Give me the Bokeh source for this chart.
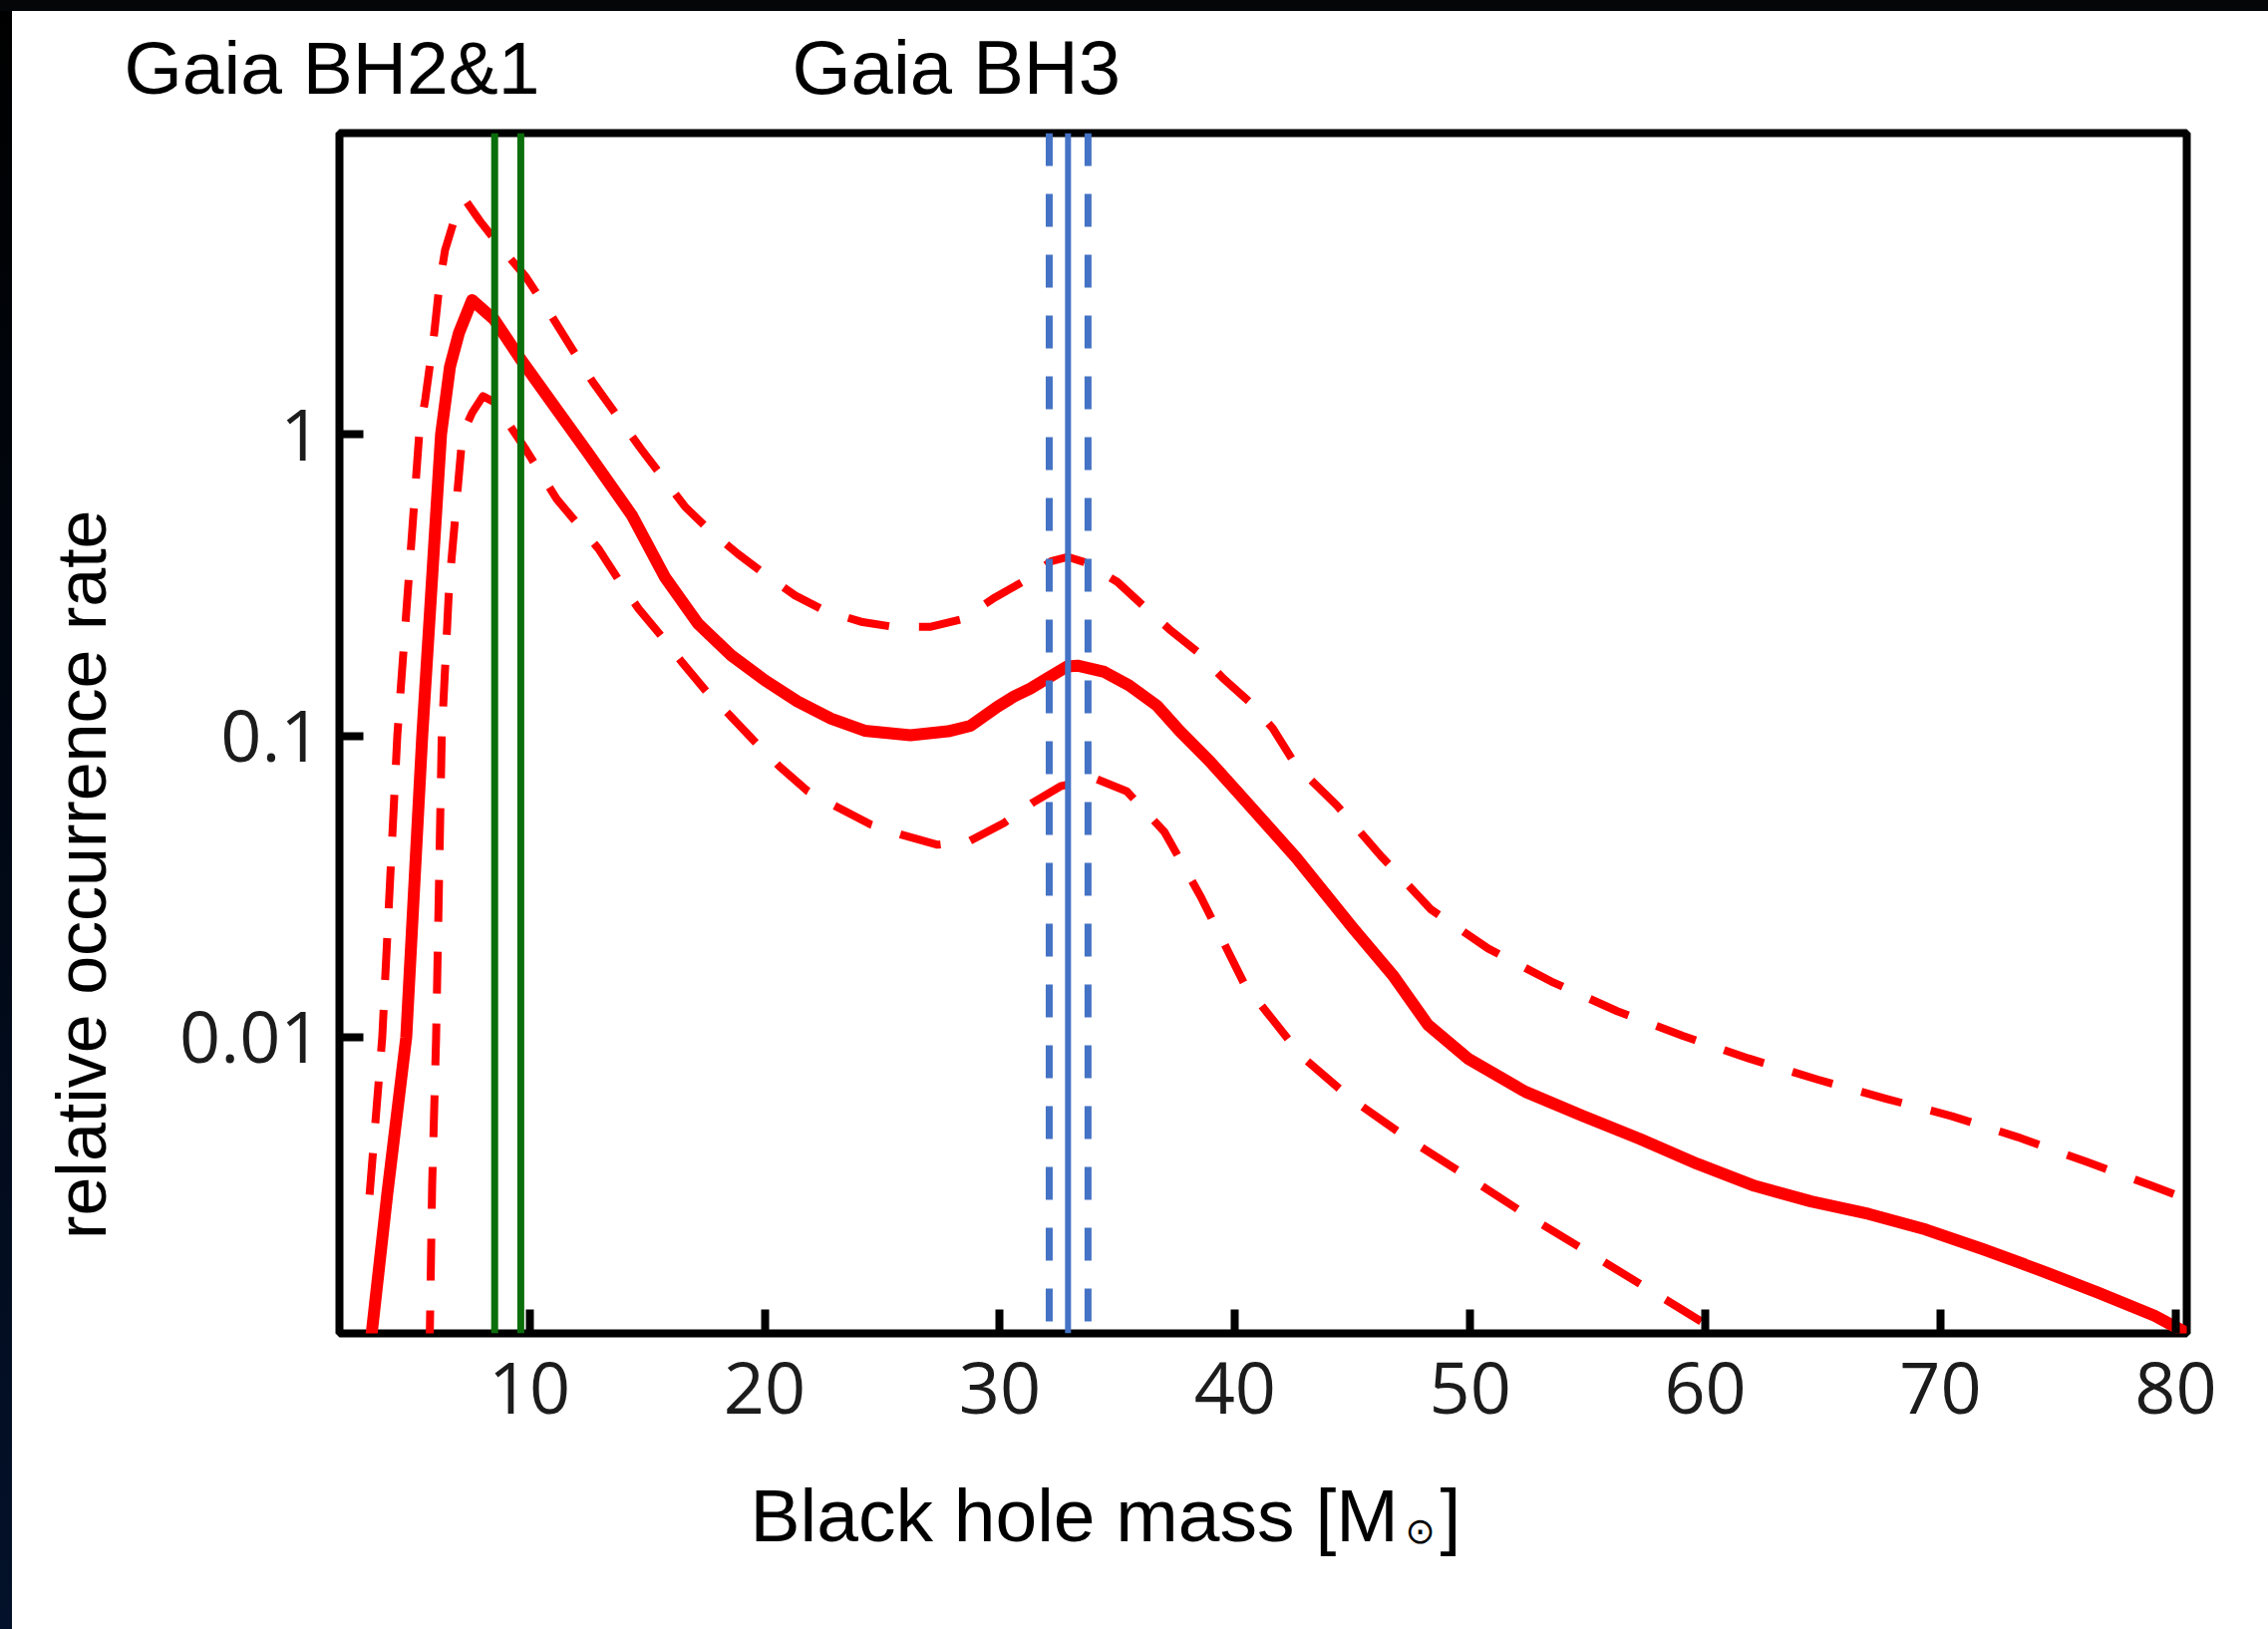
import math
from bokeh.plotting import figure
from bokeh.models import Span, Label, FixedTicker, Range1d, Div
from bokeh.layouts import column, row
from bokeh.embed import file_html
from bokeh.resources import INLINE

# ---------------- data ----------------
mass_median = [3.2, 3.95, 4.76, 5.44, 6.24, 6.62, 7.0, 7.56, 8.51, 9.64, 11.16, 12.48,
               14.35, 15.77, 17.18, 18.58, 20.0, 21.4, 22.83, 24.25, 26.2, 27.8, 28.76, 29.9,
               30.6, 31.3, 32.0, 32.87, 33.3, 34.44, 35.5, 36.68, 37.66, 38.93, 40.07, 42.6,
               45.0, 46.75, 48.2, 49.9, 52.35, 54.78, 57.2, 59.66, 62.1, 64.5, 66.95, 69.37,
               71.8, 74.2, 76.7, 79.1, 80.5]
rate_median = [0.0009, 0.003, 0.01, 0.1, 1.0, 1.68, 2.17, 2.79, 2.4, 1.77, 1.21, 0.87,
               0.54, 0.335, 0.235, 0.185, 0.153, 0.13, 0.114, 0.104, 0.1005, 0.1035, 0.108,
               0.125, 0.135, 0.1435, 0.155, 0.17, 0.171, 0.163, 0.147, 0.126, 0.1035, 0.0823,
               0.0656, 0.0394, 0.0231, 0.0159, 0.011, 0.0085, 0.00659, 0.00548, 0.0046,
               0.0038, 0.00321, 0.00285, 0.00259, 0.0023, 0.00198, 0.00169, 0.00142, 0.00119,
               0.00104]

mass_upper = [3.2, 3.74, 4.38, 5.31, 5.57, 5.95, 6.16, 6.41, 6.85, 7.28, 7.9, 8.7, 9.85, 10.97,
              12.7, 14.77, 16.63, 17.6, 18.87, 20.0, 21.3, 22.56, 24.1, 25.45, 27.07, 28.4,
              29.8, 30.96, 32.2, 32.9, 33.6, 35.0, 36.1, 37.2, 38.4, 39.5, 40.6, 41.6, 42.6,
              44.32, 46.26, 48.34, 50.76, 53.45, 56.25, 59.04, 61.84, 64.76, 67.68, 70.48,
              73.28, 76.2, 79.0, 80.5]
rate_upper = [0.003, 0.01, 0.1, 1.0, 1.31, 2.17, 3.09, 4.09, 5.3, 5.98, 5.1, 4.25, 3.33, 2.45,
              1.49, 0.89, 0.574, 0.485, 0.401, 0.344, 0.292, 0.26, 0.239, 0.23, 0.23, 0.244,
              0.288, 0.324, 0.38, 0.392, 0.377, 0.324, 0.27, 0.226, 0.19, 0.155, 0.13, 0.106,
              0.0796, 0.0589, 0.0395, 0.0265, 0.0197, 0.0153, 0.0122, 0.0101, 0.0085,
              0.00724, 0.00625, 0.00547, 0.00466, 0.00386, 0.00321, 0.0029]

mass_lower = [5.75, 5.86, 6.03, 6.27, 6.58, 7.15, 7.56, 8.02, 8.5, 9.85, 11.16, 12.94, 13.86,
              14.64, 15.7, 16.47, 17.6, 18.52, 19.65, 20.64, 21.84, 23.04, 24.53, 25.8, 27.35,
              28.7, 30.18, 31.4, 32.58, 34.0, 35.4, 37.0, 38.55, 40.4, 42.86, 44.93, 47.37,
              49.92, 52.47, 55.03, 57.58, 60.14, 61.0]
rate_lower = [0.0009, 0.0032, 0.01, 0.1, 0.31, 1.0, 1.18, 1.34, 1.28, 0.89, 0.61, 0.417, 0.323,
              0.264, 0.21, 0.176, 0.138, 0.117, 0.0945, 0.079, 0.0654, 0.0583, 0.0507, 0.047,
              0.0435, 0.0447, 0.0514, 0.06, 0.068, 0.0724, 0.0654, 0.048, 0.0292, 0.015,
              0.00861, 0.00625, 0.0046, 0.00343, 0.00255, 0.00193, 0.00146, 0.0011, 0.0009]

gaia_bh21_mass = [8.52, 9.63]
gaia_bh3_mass = 32.9
gaia_bh3_range = [32.1, 33.75]

x_ticks = [10, 20, 30, 40, 50, 60, 70, 80]
y_ticks = [0.01, 0.1, 1]
y_tick_labels = ["0.01", "0.1", "1"]

title_left = "Gaia BH2&1"
title_right = "Gaia BH3"
x_label_main = "Black hole mass [M"
x_label_sun = "\u2299"
x_label_close = "]"
y_label = "relative occurrence rate"

# ---------------- page geometry (pixels) ----------------
W, H = 2275, 1634
TOP_BAND, LEFT_BAND = 11, 12
MAIN_X0, MAIN_Y0, MAIN_Y1 = 140, 113, 1475          # main figure canvas on the page
FL, FT, FR, FB = 340, 133, 2193, 1337                # plot frame edges on the page
BASE_SHIFT = 0.37                                    # renderer baseline offset (em)


def text_panel(x0, x1, y0, y1):
    """A plain canvas whose data coordinates are page pixels (y grows downwards)."""
    f = figure(width=x1 - x0, height=y1 - y0, x_range=Range1d(x0, x1),
               y_range=Range1d(y1, y0), output_backend="svg", toolbar_location=None,
               x_axis_type=None, y_axis_type=None, min_border=0)
    f.outline_line_color = None
    f.background_fill_color = "white"
    f.border_fill_color = "white"
    return f


def lab(f, text, px, py, size, font="Liberation Sans", angle=0.0, align="left"):
    """Place text so that its alphabetic baseline starts near page point (px, py)."""
    shift = BASE_SHIFT * size
    px -= shift * math.sin(angle)
    py -= shift * math.cos(angle)
    f.add_layout(Label(x=px, y=py, text=text, text_font=font, text_font_size=f"{size}px",
                       text_color="black", text_baseline="alphabetic", text_align=align,
                       angle=angle))


# ---------------- main plot ----------------
p = figure(width=W - MAIN_X0, height=MAIN_Y1 - MAIN_Y0, output_backend="svg",
           toolbar_location=None, x_range=Range1d(1.92, 80.47),
           y_range=Range1d(0.00104, 10), y_axis_type="log",
           min_border_left=FL - MAIN_X0, min_border_right=W - FR,
           min_border_top=FT - MAIN_Y0, min_border_bottom=MAIN_Y1 - FB)
p.grid.visible = False
p.background_fill_color = "white"
p.border_fill_color = "white"
p.outline_line_color = "black"
p.outline_line_width = 8
p.outline_line_alpha = 1.0

for ax in (p.xaxis[0], p.yaxis[0]):
    ax.axis_line_color = None
    ax.major_tick_in = 24
    ax.major_tick_out = 0
    ax.major_tick_line_width = 8
    ax.major_tick_line_color = "black"
    ax.minor_tick_line_color = None
    ax.major_label_text_font = "Open Sans"
    ax.major_label_text_font_size = "72px"
    ax.major_label_text_color = "#1c1c1c"

p.xaxis.ticker = FixedTicker(ticks=x_ticks)
p.xaxis.major_label_standoff = 28
p.yaxis.ticker = FixedTicker(ticks=y_ticks)
p.yaxis.major_label_overrides = {t: s for t, s in zip(y_ticks, y_tick_labels)}
p.yaxis.major_label_standoff = 18

red = "#ff0000"
p.line(mass_upper, rate_upper, line_color=red, line_width=8, line_dash="42 30",
       line_join="round")
p.line(mass_lower, rate_lower, line_color=red, line_width=8, line_dash="42 30",
       line_join="round")
p.line(mass_median, rate_median, line_color=red, line_width=12, line_join="round")

green = "#0a6e0a"
for m in gaia_bh21_mass:
    p.add_layout(Span(location=m, dimension="height", line_color=green, line_width=7))
blue = "#4472c4"
for m in gaia_bh3_range:
    p.add_layout(Span(location=m, dimension="height", line_color=blue, line_width=7,
                      line_dash="33 28"))
p.add_layout(Span(location=gaia_bh3_mass, dimension="height", line_color=blue, line_width=6))

# ---------------- text areas around the plot ----------------
header = text_panel(LEFT_BAND, W, TOP_BAND, MAIN_Y0)
lab(header, title_left, 124, 95, 75)
lab(header, title_right, 794, 95, 76)

ylab = text_panel(LEFT_BAND, MAIN_X0, MAIN_Y0, MAIN_Y1)
lab(ylab, y_label, 107, 1368, 70, angle=math.pi / 2)

xlab = text_panel(LEFT_BAND, W, MAIN_Y1, H)
lab(xlab, x_label_main, 752, 1547, 75)
lab(xlab, x_label_sun, 1409, 1548, 36, font="DejaVu Sans")
lab(xlab, x_label_close, 1444, 1547, 75)

top_band = Div(width=W, height=TOP_BAND, margin=(0, 0, 0, 0),
               styles={"background-color": "#050608"})
left_band = Div(width=LEFT_BAND, height=H - TOP_BAND, margin=(0, 0, 0, 0),
                styles={"background": "linear-gradient(#000000, #03112a)"})
for f in (p, header, ylab, xlab):
    f.margin = (0, 0, 0, 0)

inner = column(header, row(ylab, p, spacing=0), xlab, spacing=0)
layout = column(top_band, row(left_band, inner, spacing=0), spacing=0)

open("out.html", "w").write(file_html(layout, INLINE))
